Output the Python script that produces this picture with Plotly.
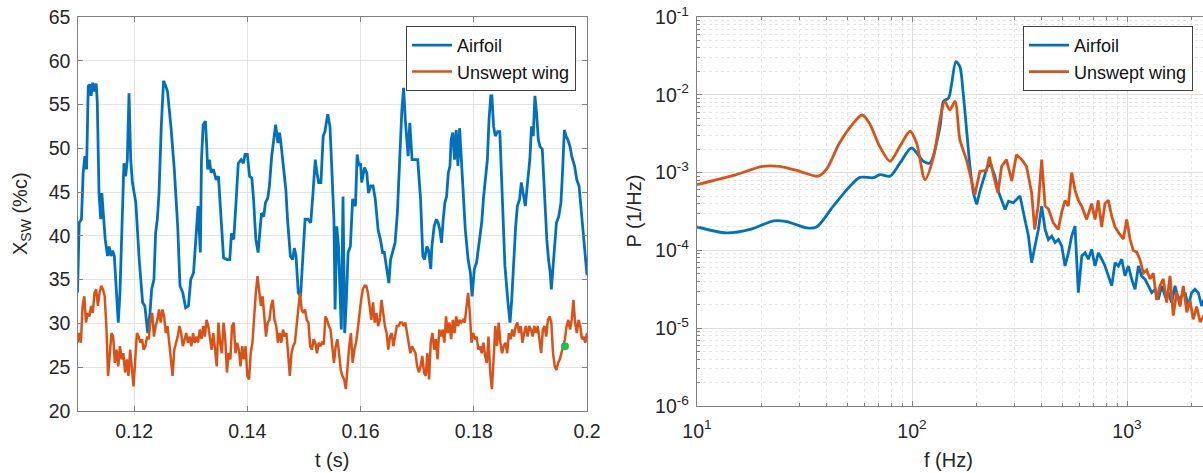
import plotly.graph_objects as go

BLUE = "#0072BD"
ORANGE = "#D95319"
FONT = "Liberation Sans, Arial, sans-serif"
TXT = "#262626"

# ---------------- left panel: X_SW(t) ----------------
t_airfoil = [
    0.1100, 0.1103, 0.1107, 0.1110, 0.1113, 0.1116, 0.1119, 0.1122, 0.1124, 0.1127,
    0.1130, 0.1133, 0.1135, 0.1138, 0.1141, 0.1143, 0.1146, 0.1149, 0.1153, 0.1156,
    0.1159, 0.1162, 0.1165, 0.1169, 0.1172, 0.1175, 0.1179, 0.1182, 0.1185, 0.1188,
    0.1191, 0.1194, 0.1197, 0.1203, 0.1209, 0.1215, 0.1219, 0.1224, 0.1228, 0.1231,
    0.1235, 0.1238, 0.1241, 0.1244, 0.1248, 0.1252, 0.1256, 0.1259, 0.1265, 0.1271,
    0.1277, 0.1281, 0.1286, 0.1291, 0.1296, 0.1300, 0.1305, 0.1309, 0.1313, 0.1317,
    0.1319, 0.1322, 0.1326, 0.1328, 0.1330, 0.1333, 0.1336, 0.1340, 0.1345, 0.1349,
    0.1353, 0.1358, 0.1364, 0.1369, 0.1372, 0.1376, 0.1380, 0.1384, 0.1389, 0.1393,
    0.1396,
    0.1400, 0.1404, 0.1408, 0.1411, 0.1415, 0.1419, 0.1422, 0.1425, 0.1429, 0.1432,
    0.1436, 0.1439, 0.1443, 0.1447, 0.1450, 0.1454, 0.1457, 0.1460, 0.1464, 0.1468,
    0.1471, 0.1476, 0.1480, 0.1483, 0.1486, 0.1490, 0.1494, 0.1498, 0.1502, 0.1507,
    0.1512, 0.1516, 0.1520, 0.1523, 0.1526, 0.1530, 0.1534, 0.1537, 0.1542, 0.1546,
    0.1549, 0.1553, 0.1555, 0.1558, 0.1561, 0.1566, 0.1569, 0.1572, 0.1575, 0.1578,
    0.1582, 0.1586, 0.1591, 0.1594, 0.1597, 0.1600, 0.1602, 0.1607, 0.1611, 0.1614,
    0.1618, 0.1622, 0.1626, 0.1631, 0.1635, 0.1639, 0.1642, 0.1646, 0.1650, 0.1653,
    0.1657, 0.1661, 0.1665, 0.1669, 0.1673, 0.1676, 0.1679, 0.1684, 0.1687, 0.1691,
    0.1696,
    0.1701, 0.1706, 0.1710, 0.1713, 0.1717, 0.1720, 0.1724, 0.1726, 0.1730, 0.1734,
    0.1737, 0.1740, 0.1743, 0.1746, 0.1749, 0.1752, 0.1755, 0.1758, 0.1760, 0.1763,
    0.1766, 0.1769, 0.1772, 0.1775, 0.1778, 0.1781, 0.1785, 0.1790, 0.1794, 0.1797,
    0.1801, 0.1805, 0.1809, 0.1814, 0.1817, 0.1821, 0.1824, 0.1827, 0.1830, 0.1832,
    0.1835, 0.1838, 0.1842, 0.1846, 0.1850, 0.1855, 0.1860, 0.1864, 0.1867, 0.1870,
    0.1874, 0.1877, 0.1881, 0.1884, 0.1888, 0.1891, 0.1895, 0.1899, 0.1902, 0.1905,
    0.1908, 0.1911, 0.1914, 0.1917, 0.1921, 0.1924, 0.1929, 0.1932, 0.1935, 0.1937,
    0.1940, 0.1943, 0.1946, 0.1950, 0.1954, 0.1957, 0.1960, 0.1963, 0.1966, 0.1970,
    0.1973, 0.1978, 0.1982, 0.1986, 0.1989, 0.1994, 0.1998, 0.2000,
]
xsw_airfoil = [
    33.5, 41.5, 41.9, 47.2, 49.1, 47.6, 57.1, 57.3, 56.0, 57.5,
    56.5, 57.4, 55.2, 44.9, 41.9, 44.9, 42.2, 39.6, 37.7, 38.8,
    37.7, 38.3, 37.7, 33.5, 30.1, 33.5, 41.1, 48.3, 46.8, 48.7,
    56.3, 48.7, 46.1, 43.8, 37.3, 32.4, 32.0, 28.9, 31.2, 33.9,
    35.0, 40.3, 41.9, 44.9, 52.5, 57.7, 57.1, 56.5, 52.5, 47.6,
    41.1, 34.3, 33.5, 31.8, 32.0, 35.0, 35.8, 40.0, 43.4, 38.1,
    48.7, 52.7, 53.1, 50.6, 47.6, 48.7, 47.2, 47.6, 46.4, 46.8,
    43.0, 37.5, 37.3, 37.3, 40.3, 39.6, 43.8, 48.3, 48.7, 48.3,
    49.3,
    49.3, 46.8, 46.6, 44.2, 39.6, 38.1, 40.3, 42.6, 42.2, 43.8,
    44.3, 45.7, 49.1, 51.0, 52.7, 50.6, 51.8, 50.2, 48.0, 45.3,
    41.9, 37.7, 37.3, 38.6, 37.7, 33.5, 33.1, 38.1, 41.9, 41.9,
    41.5, 44.9, 48.7, 47.2, 46.1, 46.1, 51.4, 51.9, 53.9, 52.5,
    48.3, 41.9, 31.6, 41.1, 38.8, 29.3, 44.5, 28.9, 32.8, 38.1,
    38.8, 44.2, 43.4, 49.3, 48.0, 48.3, 46.1, 47.8, 47.2, 44.9,
    45.7, 45.7, 44.2, 40.7, 39.6, 38.1, 38.1, 36.2, 34.6, 37.3,
    38.4, 39.2, 42.6, 48.7, 54.4, 56.9, 53.3, 49.1, 52.9, 48.7,
    48.7,
    48.7, 44.2, 37.7, 37.3, 38.8, 38.4, 36.2, 38.8, 41.1, 41.9,
    41.5, 40.7, 39.2, 41.9, 43.8, 44.5, 47.2, 48.0, 51.0, 51.8,
    48.7, 52.1, 48.0, 52.3, 48.7, 44.5, 40.7, 37.3, 35.8, 33.1,
    36.2, 37.0, 39.2, 41.5, 44.2, 46.4, 48.7, 53.3, 56.0, 56.0,
    52.5, 51.4, 51.9, 51.9, 45.7, 36.6, 32.7, 30.1, 32.7, 36.6,
    41.1, 43.4, 44.2, 46.1, 44.2, 43.4, 46.1, 48.7, 52.5, 51.4,
    56.0, 54.0, 51.0, 50.2, 49.9, 45.7, 39.6, 37.3, 35.8, 33.9,
    36.2, 38.8, 41.5, 42.2, 43.8, 47.6, 52.1, 51.4, 51.0, 50.2,
    49.1, 48.0, 46.4, 45.7, 43.4, 39.6, 37.3, 35.5,
]

t_unswept = [
    0.1100, 0.1103, 0.1106, 0.1109, 0.1112, 0.1115, 0.1118, 0.1121, 0.1124, 0.1127,
    0.1130, 0.1133, 0.1136, 0.1139, 0.1142, 0.1145, 0.1148, 0.1151, 0.1154, 0.1157,
    0.1160, 0.1163, 0.1166, 0.1169, 0.1172, 0.1175, 0.1178, 0.1181, 0.1184, 0.1187,
    0.1190, 0.1193, 0.1196, 0.1199, 0.1202, 0.1205, 0.1208, 0.1211, 0.1214, 0.1217,
    0.1220, 0.1223, 0.1226, 0.1229, 0.1232, 0.1235, 0.1238, 0.1241, 0.1244, 0.1247,
    0.1250, 0.1253, 0.1256, 0.1259, 0.1262, 0.1265, 0.1268, 0.1271, 0.1274, 0.1277,
    0.1280, 0.1283, 0.1286, 0.1289, 0.1292, 0.1295, 0.1298, 0.1301, 0.1304, 0.1307,
    0.1310, 0.1313, 0.1316, 0.1319, 0.1322, 0.1325, 0.1328, 0.1331, 0.1334, 0.1337,
    0.1340, 0.1343, 0.1346, 0.1349, 0.1352, 0.1355, 0.1358, 0.1361, 0.1364, 0.1367,
    0.1370, 0.1373, 0.1376, 0.1379, 0.1382, 0.1385, 0.1388, 0.1391, 0.1394, 0.1397,
    0.1400, 0.1403, 0.1406, 0.1409, 0.1412, 0.1415, 0.1418, 0.1421, 0.1424, 0.1427,
    0.1430, 0.1433, 0.1436, 0.1439, 0.1442, 0.1445, 0.1448, 0.1451, 0.1454, 0.1457,
    0.1460, 0.1463, 0.1466, 0.1469, 0.1472, 0.1475, 0.1478, 0.1481, 0.1484, 0.1487,
    0.1490, 0.1493, 0.1496, 0.1499, 0.1502, 0.1505, 0.1508, 0.1511, 0.1514, 0.1517,
    0.1520, 0.1523, 0.1526, 0.1529, 0.1532, 0.1535, 0.1538, 0.1541, 0.1544, 0.1547,
    0.1550, 0.1553, 0.1556, 0.1559, 0.1562, 0.1565, 0.1568, 0.1571, 0.1574, 0.1577,
    0.1580, 0.1583, 0.1586, 0.1589, 0.1592, 0.1595, 0.1598, 0.1601, 0.1604, 0.1607,
    0.1610, 0.1613, 0.1616, 0.1619, 0.1622, 0.1625, 0.1628, 0.1631, 0.1634, 0.1637,
    0.1640, 0.1643, 0.1646, 0.1649, 0.1652, 0.1655, 0.1658, 0.1661, 0.1664, 0.1667,
    0.1670, 0.1673, 0.1676, 0.1679, 0.1682, 0.1685, 0.1688, 0.1691, 0.1694, 0.1697,
    0.1700, 0.1703, 0.1706, 0.1709, 0.1712, 0.1715, 0.1718, 0.1721, 0.1724, 0.1727,
    0.1730, 0.1733, 0.1736, 0.1739, 0.1742, 0.1745, 0.1748, 0.1751, 0.1754, 0.1757,
    0.1760, 0.1763, 0.1766, 0.1769, 0.1772, 0.1775, 0.1778, 0.1781, 0.1784, 0.1787,
    0.1790, 0.1793, 0.1796, 0.1799, 0.1802, 0.1805, 0.1808, 0.1811, 0.1814, 0.1817,
    0.1820, 0.1823, 0.1826, 0.1829, 0.1832, 0.1835, 0.1838, 0.1841, 0.1844, 0.1847,
    0.1850, 0.1853, 0.1856, 0.1859, 0.1862, 0.1865, 0.1868, 0.1871, 0.1874, 0.1877,
    0.1880, 0.1883, 0.1886, 0.1889, 0.1892, 0.1895, 0.1898, 0.1901, 0.1904, 0.1907,
    0.1910, 0.1913, 0.1916, 0.1919, 0.1922, 0.1925, 0.1928, 0.1931, 0.1934, 0.1937,
    0.1940, 0.1943, 0.1946, 0.1949, 0.1952, 0.1955, 0.1958, 0.1961, 0.1964, 0.1967,
    0.1970, 0.1973, 0.1976, 0.1979, 0.1982, 0.1985, 0.1988, 0.1991, 0.1994, 0.1997,
    0.2000,
]
xsw_unswept = [
    27.8, 28.9, 27.8, 32.0, 33.1, 30.1, 31.2, 30.8, 32.0, 31.2,
    33.5, 33.9, 32.0, 33.5, 34.3, 33.9, 33.1, 29.7, 24.0, 26.6,
    28.9, 28.5, 25.5, 27.0, 25.1, 27.4, 25.9, 26.6, 24.4, 25.9,
    24.0, 27.0, 25.1, 22.8, 25.9, 28.9, 28.5, 27.8, 28.2, 27.0,
    27.4, 28.5, 28.2, 30.4, 31.2, 28.5, 29.7, 30.4, 31.6, 30.1,
    31.6, 30.8, 28.9, 29.7, 27.8, 25.9, 24.0, 27.0, 27.8, 28.5,
    29.7, 28.9, 27.4, 28.2, 28.9, 27.8, 28.5, 27.4, 28.9, 27.8,
    28.5, 27.8, 29.3, 28.2, 29.7, 28.5, 30.4, 29.7, 28.5, 27.0,
    28.9, 26.6, 25.1, 30.1, 27.8, 26.6, 30.1, 28.2, 24.4, 26.6,
    25.9, 29.7, 30.1, 26.6, 27.8, 27.0, 25.1, 27.4, 25.9, 27.4,
    24.0, 23.6,
    26.6, 27.8, 31.2, 33.5, 35.4, 33.5, 32.0, 33.1, 31.2, 28.5,
    30.1, 30.4, 32.0, 32.7, 30.4, 29.7, 27.8, 28.9, 27.8, 29.3,
    28.5, 28.9, 26.6, 24.0, 26.6, 27.4, 27.8, 29.7, 32.0, 33.5,
    31.6, 31.2, 31.6, 30.4, 30.1, 27.4, 27.0, 28.2, 27.8, 26.6,
    27.8, 27.4, 27.8, 27.6, 30.8, 30.4, 29.7, 29.3, 27.4, 25.5,
    27.4, 28.2, 26.6, 24.7, 24.0, 23.6, 22.5, 25.1, 27.4, 28.9,
    25.5, 27.0, 27.8, 29.3, 31.2, 32.7, 33.9, 34.3, 34.3, 33.5,
    32.0, 30.4, 32.4, 30.1, 31.2, 29.7, 30.4, 32.7, 31.2, 29.7,
    28.9, 27.0, 28.5, 28.9, 27.4, 28.5, 29.7, 29.7, 30.1, 30.1,
    29.7, 30.1, 28.9, 27.8, 26.6, 27.4, 27.0, 26.6, 25.1, 24.4,
    25.1, 26.3, 24.4, 24.0, 26.6, 23.6, 27.8, 28.9, 27.0, 28.2,
    25.9, 29.3, 28.5, 29.3, 27.8, 30.8, 28.9, 30.1, 28.2, 30.4,
    28.9, 30.8, 29.7, 30.4, 30.1, 30.4, 30.1, 32.0, 33.5,
    31.2, 27.8, 28.9, 28.2, 28.5, 27.0, 27.4, 26.6, 27.8, 26.3,
    25.5, 28.5, 24.4, 22.5, 25.9, 29.7, 27.4, 30.1, 27.8, 26.6,
    27.4, 27.8, 26.6, 28.9, 28.2, 29.3, 28.5, 29.7, 30.1, 28.9,
    29.7, 27.8, 28.9, 29.7, 28.5, 29.7, 29.3, 28.5, 29.7,
    28.9, 29.7, 28.2, 26.6, 29.3, 29.7, 28.5, 30.4, 30.8, 30.1,
    26.6, 25.1, 24.7, 25.5, 25.9, 26.6, 27.4, 28.2, 29.7, 30.4,
    29.3, 30.4, 32.7, 30.1, 28.9, 30.4, 29.7, 28.2, 28.5, 27.8, 28.9,
]

# green marker seen on the orange trace
dot_t = [0.1961]
dot_xsw = [27.4]

left_yticks = [20, 25, 30, 35, 40, 45, 50, 55, 60, 65]
left_xticks = [0.12, 0.14, 0.16, 0.18, 0.2]
left_xticklabels = ["0.12", "0.14", "0.16", "0.18", "0.2"]

# ---------------- right panel: PSD ----------------
f_airfoil = [
    10, 13.7, 17.7, 22.7, 26.1, 32.4, 36, 43, 51.5, 57.3,
    66, 71, 79, 88, 99.5, 113, 121, 135, 140, 148,
    153, 160, 167, 173, 180, 186, 193, 200, 207, 222,
    231, 243, 252, 271, 281, 296, 318, 335, 348, 360,
    373, 387, 401, 416, 431, 447, 463, 480, 497, 515,
    534, 553, 573, 594, 616, 638, 661, 685, 710, 736,
    763, 790, 819, 849, 880, 912, 945, 979, 1015, 1052,
    1090, 1130, 1170, 1213, 1257, 1303, 1350, 1399, 1450, 1503,
    1557, 1614, 1672, 1733, 1796, 1861, 1928, 1998, 2070, 2146,
    2224, 2300,
]
p_airfoil = [
    2.0e-4, 1.68e-4, 1.86e-4, 2.4e-4, 2.35e-4, 1.95e-4, 2.0e-4, 3.7e-4, 6.7e-4, 8.7e-4,
    8.6e-4, 9.4e-4, 9.0e-4, 1.33e-3, 2.07e-3, 1.4e-3, 1.33e-3, 3.9e-3, 8.2e-3, 9.1e-3,
    1.41e-2, 2.67e-2, 2.3e-2, 1.05e-2, 3.2e-3, 1.2e-3, 5.5e-4, 3.9e-4, 5.8e-4, 1.1e-3,
    1.33e-3, 9.0e-4, 5.75e-4, 3.36e-4, 4.3e-4, 4.1e-4, 5.0e-4, 2.5e-4, 1.53e-4, 6.95e-5,
    1.14e-4, 1.86e-4, 3.7e-4, 1.86e-4, 1.38e-4, 1.53e-4, 1.26e-4, 1.38e-4, 1.14e-4, 6.3e-5,
    9.3e-5, 1.53e-4, 2.05e-4, 2.86e-5, 8.5e-5, 9.3e-5, 7.7e-5, 1.03e-4, 6.3e-5, 9.3e-5,
    7.7e-5, 6.3e-5, 4.7e-5, 3.5e-5, 6.95e-5, 6.3e-5, 7.7e-5, 4.7e-5, 6.3e-5, 4.25e-5,
    3.16e-5, 6.3e-5, 4.7e-5, 4.25e-5, 3.5e-5, 2.86e-5, 3.16e-5, 2.35e-5, 3.5e-5, 2.6e-5,
    2.86e-5, 2.13e-5, 3.5e-5, 2.35e-5, 2.6e-5, 2.86e-5, 1.93e-5, 2.86e-5, 3.16e-5, 2.86e-5,
    1.93e-5, 2.5e-5,
]
f_unswept = [
    10, 14.8, 20.2, 24.2, 30, 36.6, 40, 46, 53.3, 58.7,
    63.4, 70.6, 79, 88, 98, 105, 115, 126, 135, 142,
    150, 158.5, 167, 179, 196, 207, 222, 229, 242, 251,
    261, 275, 291, 306, 324, 341, 360, 372, 386, 401,
    416, 431, 454, 479, 497, 515, 533, 553, 573, 594,
    616, 649, 685, 710, 735, 762, 790, 819, 849, 880,
    912, 962, 997, 1033, 1069, 1109, 1148, 1191, 1235, 1279,
    1325, 1374, 1423, 1475, 1530, 1585, 1641, 1702, 1765, 1828,
    1897, 1963, 2032, 2109, 2188, 2300,
]
p_unswept = [
    7.0e-4, 9.2e-4, 1.2e-3, 1.2e-3, 1.04e-3, 9.0e-4, 1.1e-3, 2.4e-3, 4.3e-3, 5.5e-3,
    4.3e-3, 2.2e-3, 1.4e-3, 2.2e-3, 3.4e-3, 2.4e-3, 8.1e-4, 1.6e-3, 4.8e-3, 8.2e-3,
    6.4e-3, 8.2e-3, 2.65e-3, 1.47e-3, 5.2e-4, 1.04e-3, 1.07e-3, 1.6e-3, 8.1e-4, 5.5e-4,
    1.2e-3, 1.47e-3, 7.8e-4, 1.7e-3, 1.47e-3, 1.2e-3, 5.5e-4, 1.86e-4, 3.7e-4, 1.47e-3,
    3.7e-4, 3.4e-4, 2.26e-4, 1.86e-4, 3.1e-4, 4.4e-4, 3.7e-4, 1.0e-3, 6.0e-4, 4.4e-4,
    3.7e-4, 2.5e-4, 4.0e-4, 2.5e-4, 4.4e-4, 2.0e-4, 4.0e-4, 4.4e-4, 2.75e-4, 2.0e-4,
    1.7e-4, 1.4e-4, 2.5e-4, 1.4e-4, 1.0e-4, 9.5e-5, 7.7e-5, 5.1e-5, 5.6e-5, 4.3e-5,
    5.1e-5, 2.3e-5, 3.5e-5, 4.3e-5, 2.14e-5, 4.7e-5, 1.45e-5, 2.9e-5, 1.9e-5, 3.5e-5,
    1.6e-5, 2.3e-5, 1.3e-5, 1.9e-5, 1.2e-5, 1.5e-5,
]
# the low-frequency part of each spectrum is smooth, the rest is noisy
SMOOTH_UNTIL_HZ = 200

right_xticks = [10, 100, 1000]
right_xticklabels = ["10<sup>1</sup>", "10<sup>2</sup>", "10<sup>3</sup>"]
right_yticks = [1e-6, 1e-5, 1e-4, 1e-3, 1e-2, 1e-1]
right_yticklabels = ["10<sup>-6</sup>", "10<sup>-5</sup>", "10<sup>-4</sup>",
                     "10<sup>-3</sup>", "10<sup>-2</sup>", "10<sup>-1</sup>"]
minor_x = [m * 10 ** e for e in (1, 2, 3) for m in range(2, 10)]
minor_y = [m * 10.0 ** e for e in (-6, -5, -4, -3, -2) for m in range(2, 10)]

W, H = 1203, 473
# plot-area edges in px
L1, R1, T1, B1 = 77.5, 587, 17, 411
L2, T2, B2 = 697, 17, 406

fig = go.Figure()

fig.add_trace(go.Scatter(x=t_airfoil, y=xsw_airfoil, mode="lines", name="Airfoil",
                         line=dict(color=BLUE, width=2.8), xaxis="x", yaxis="y",
                         legend="legend"))
fig.add_trace(go.Scatter(x=t_unswept, y=xsw_unswept, mode="lines", name="Unswept wing",
                         line=dict(color=ORANGE, width=2.5), xaxis="x", yaxis="y",
                         legend="legend"))
fig.add_trace(go.Scatter(x=dot_t, y=dot_xsw, mode="markers", showlegend=False,
                         marker=dict(color="#1fbf4f", size=8), xaxis="x", yaxis="y"))


def split(f, p):
    k = max(i for i, v in enumerate(f) if v <= SMOOTH_UNTIL_HZ)
    return (f[:k + 1], p[:k + 1]), (f[k:], p[k:])


for f, p, name, col in [(f_airfoil, p_airfoil, "Airfoil", BLUE),
                        (f_unswept, p_unswept, "Unswept wing", ORANGE)]:
    (fs, ps), (fn, pn) = split(f, p)
    fig.add_trace(go.Scatter(x=fs, y=ps, mode="lines", name=name, legendgroup=name,
                             line=dict(color=col, width=2.8, shape="spline", smoothing=0.8),
                             xaxis="x2", yaxis="y2", legend="legend2"))
    fig.add_trace(go.Scatter(x=fn, y=pn, mode="lines", name=name, legendgroup=name,
                             showlegend=False, line=dict(color=col, width=2.8),
                             xaxis="x2", yaxis="y2", legend="legend2"))

axis_common = dict(
    automargin=False,
    showline=True, linecolor="#808080", linewidth=1.3,
    ticks="inside", ticklen=5, tickcolor="#808080", tickwidth=1,
    zeroline=False, tickfont=dict(family=FONT, size=19.5, color=TXT),
)

title_font = dict(family=FONT, size=20, color=TXT)
annotations = [
    dict(text="t (s)", x=(L1 + R1) / 2 / W, y=1 - 460 / H, xref="paper", yref="paper",
         xanchor="center", yanchor="middle", showarrow=False, font=title_font),
    dict(text="f (Hz)", x=948 / W, y=1 - 460 / H, xref="paper", yref="paper",
         xanchor="center", yanchor="middle", showarrow=False, font=title_font),
    dict(text="X<sub>SW</sub> (%c)", x=21 / W, y=1 - (T1 + B1) / 2 / H, xref="paper",
         yref="paper", xanchor="center", yanchor="middle", textangle=-90,
         showarrow=False, font=title_font),
    dict(text="P (1/Hz)", x=633 / W, y=1 - (T2 + B2) / 2 / H, xref="paper",
         yref="paper", xanchor="center", yanchor="middle", textangle=-90,
         showarrow=False, font=title_font),
]

legend_style = dict(bgcolor="white", bordercolor="#404040", borderwidth=1,
                    font=dict(family=FONT, size=18, color="#111"), tracegroupgap=0,
                    itemwidth=40, yanchor="top", xanchor="right")

fig.update_layout(
    width=W, height=H,
    margin=dict(l=0, r=0, t=0, b=0, autoexpand=False),
    paper_bgcolor="white", plot_bgcolor="white",
    font=dict(family=FONT, color=TXT),
    annotations=annotations,
    xaxis=dict(domain=[L1 / W, R1 / W], anchor="y", range=[0.11, 0.2],
               tickvals=left_xticks, ticktext=left_xticklabels, mirror="ticks",
               showgrid=True, gridcolor="#e4e4e4", gridwidth=1,
               ticklabelstandoff=2, **axis_common),
    yaxis=dict(domain=[1 - B1 / H, 1 - T1 / H], anchor="x", range=[20, 65],
               tickvals=left_yticks, mirror="ticks",
               showgrid=True, gridcolor="#e4e4e4", gridwidth=1,
               ticklabelstandoff=2, **axis_common),
    xaxis2=dict(domain=[L2 / W, 1.0], anchor="y2", type="log",
                range=[1, 1 + (W - L2) / 215],
                tickvals=right_xticks, ticktext=right_xticklabels, mirror="ticks",
                showgrid=True, gridcolor="#dedede", gridwidth=1,
                minor=dict(tickvals=minor_x, ticks="inside", ticklen=3,
                           tickcolor="#808080", showgrid=True, gridcolor="#e6e6e6",
                           griddash="dot", gridwidth=1),
                ticklabelstandoff=7, **axis_common),
    yaxis2=dict(domain=[1 - B2 / H, 1 - T2 / H], anchor="x2", type="log",
                range=[-6, -1],
                tickvals=right_yticks, ticktext=right_yticklabels, mirror=False,
                showgrid=True, gridcolor="#dedede", gridwidth=1,
                minor=dict(tickvals=minor_y, ticks="inside", ticklen=3,
                           tickcolor="#808080", showgrid=True, gridcolor="#e6e6e6",
                           griddash="dot", gridwidth=1),
                ticklabelstandoff=3, **axis_common),
    legend=dict(x=576 / W, y=1 - 26 / H, **legend_style),
    legend2=dict(x=1193 / W, y=1 - 26 / H, **legend_style),
    showlegend=True,
)

fig.write_html("out.html")
